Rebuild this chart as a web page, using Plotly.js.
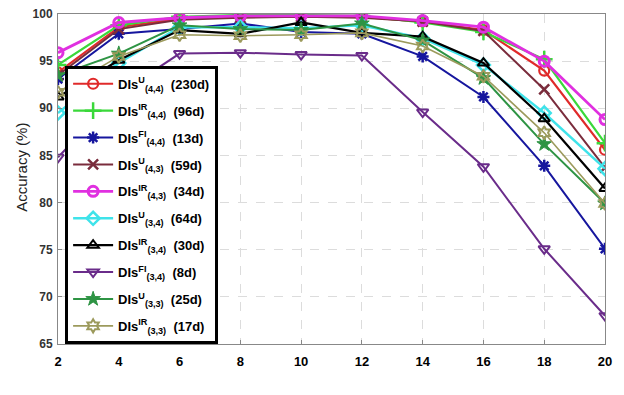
<!DOCTYPE html>
<html>
<head>
<meta charset="utf-8">
<script src="https://cdn.plot.ly/plotly-3.0.1.min.js"></script>
<style>html,body{margin:0;padding:0;background:#fff;}#chart{width:624px;height:395px;}</style>
</head>
<body>
<div id="chart"></div>
<script>
const xVals = [2, 4, 6, 8, 10, 12, 14, 16, 18, 20];
const dis_U_44  = [93.8, 98.6, 99.5, 99.7, 99.8, 99.7, 99.2, 98.3, 94.0, 85.6];
const dis_IR_44 = [94.6, 98.8, 99.7, 99.9, 99.9, 99.8, 99.1, 98.1, 95.2, 86.3];
const dis_FI_44 = [93.1, 97.9, 98.4, 99.0, 98.1, 97.9, 95.5, 91.2, 83.9, 75.1];
const dis_U_43  = [93.5, 98.4, 99.4, 99.6, 99.7, 99.6, 99.2, 98.2, 92.0, 83.7];
const dis_IR_43 = [95.9, 99.1, 99.6, 99.8, 99.8, 99.8, 99.3, 98.6, 95.0, 88.8];
const dis_U_34  = [89.5, 94.8, 98.6, 98.6, 98.5, 98.8, 97.4, 94.6, 89.5, 83.6];
const dis_IR_34 = [91.2, 95.1, 98.3, 97.9, 99.1, 98.0, 97.6, 94.8, 88.9, 81.5];
const dis_FI_34 = [84.8, 91.5, 95.8, 95.9, 95.7, 95.6, 89.6, 83.8, 75.1, 68.0];
const dis_U_33  = [93.5, 95.8, 98.8, 98.4, 98.3, 99.0, 97.2, 93.2, 86.2, 79.9];
const dis_IR_33 = [91.7, 95.5, 97.8, 97.7, 97.8, 98.0, 96.6, 93.4, 87.4, 79.9];

const seriesNames = [
  ['U', '(4,4)', '(230d)'],
  ['IR', '(4,4)', '(96d)'],
  ['FI', '(4,4)', '(13d)'],
  ['U', '(4,3)', '(59d)'],
  ['IR', '(4,3)', '(34d)'],
  ['U', '(3,4)', '(64d)'],
  ['IR', '(3,4)', '(30d)'],
  ['FI', '(3,4)', '(8d)'],
  ['U', '(3,3)', '(25d)'],
  ['IR', '(3,3)', '(17d)']
];
const seriesData = [dis_U_44, dis_IR_44, dis_FI_44, dis_U_43, dis_IR_43, dis_U_34, dis_IR_34, dis_FI_34, dis_U_33, dis_IR_33];

const styles = [
  {c: '#e02a2a', s: 'circle-open', sz: 10, lw: 2.2, mw: 2.2},
  {c: '#3ad83a', s: 'cross-thin-open', sz: 12, lw: 2.2, mw: 2.5},
  {c: '#16169e', s: 'asterisk-open', sz: 10, lw: 2, mw: 2.5},
  {c: '#7a2c3c', s: 'x-thin-open', sz: 10, lw: 2, mw: 2.5},
  {c: '#e030e0', s: 'circle-open', sz: 10, lw: 2.8, mw: 3},
  {c: '#3fe3ea', s: 'diamond-open', sz: 10, lw: 2.4, mw: 2.5},
  {c: '#000000', s: 'triangle-up-open', sz: 10, lw: 2.2, mw: 2},
  {c: '#6a2c8a', s: 'triangle-down-open', sz: 10, lw: 2, mw: 2},
  {c: '#2e9444', s: 'star', sz: 11, lw: 2, mw: 1},
  {c: '#9c9a5c', s: 'hexagram-open', sz: 10, lw: 1.6, mw: 2}
];

const traces = seriesData.map((y, i) => {
  const n = seriesNames[i];
  const st = styles[i];
  return {
    x: xVals, y: y, type: 'scatter', mode: 'lines+markers',
    name: '<b>DIs</b><sup><b>' + n[0] + '</b></sup><sub><b>' + n[1] + '</b></sub>  <b>' + n[2] + '</b>',
    legendgroup: 'g' + i,
    line: {color: st.c, width: st.lw},
    marker: {symbol: st.s, size: st.sz, color: st.c, line: {color: st.c, width: st.mw}}
  };
});

const gridColor = '#dcdcdc';
const layout = {
  width: 624, height: 395,
  margin: {l: 58, r: 19, t: 14, b: 51},
  paper_bgcolor: '#fff', plot_bgcolor: '#fff',
  font: {family: 'Liberation Sans, Arial, sans-serif', color: '#000'},
  showlegend: true,
  legend: {
    x: 0.013, y: 0.843, xanchor: 'left', yanchor: 'top',
    bgcolor: '#fff', bordercolor: '#000', borderwidth: 3,
    font: {size: 13, color: '#000', family: 'Liberation Sans, Arial, sans-serif'},
    tracegroupgap: 7, itemwidth: 40
  },
  xaxis: {
    range: [2, 20], tickvals: xVals, ticktext: xVals.map(String),
    showgrid: true, gridcolor: gridColor, griddash: 'dash', gridwidth: 1,
    zeroline: false, showline: true, linecolor: '#888', linewidth: 1, mirror: true,
    ticks: 'inside', ticklen: 4, tickcolor: '#888',
    tickfont: {size: 13, color: '#000', family: 'Liberation Sans, Arial, sans-serif', weight: 'bold'},
    ticklabelstandoff: 5
  },
  yaxis: {
    range: [65, 100], dtick: 5, tick0: 65,
    showgrid: true, gridcolor: gridColor, griddash: 'dash', gridwidth: 1,
    zeroline: false, showline: true, linecolor: '#888', linewidth: 1, mirror: true,
    ticks: 'inside', ticklen: 4, tickcolor: '#888',
    tickfont: {size: 12, color: '#333', family: 'Liberation Sans, Arial, sans-serif', weight: 'bold'},
    ticklabelstandoff: 2
  },
  annotations: [{
    text: 'Accuracy (%)', xref: 'paper', yref: 'paper',
    x: -0.068, y: 0.5, xanchor: 'center', yanchor: 'middle',
    yshift: 12, textangle: -90, showarrow: false,
    font: {size: 15, color: '#222', family: 'Liberation Sans, Arial, sans-serif'}
  }]
};

Plotly.newPlot('chart', traces, layout, {displayModeBar: false, staticPlot: true});
</script>
</body>
</html>
